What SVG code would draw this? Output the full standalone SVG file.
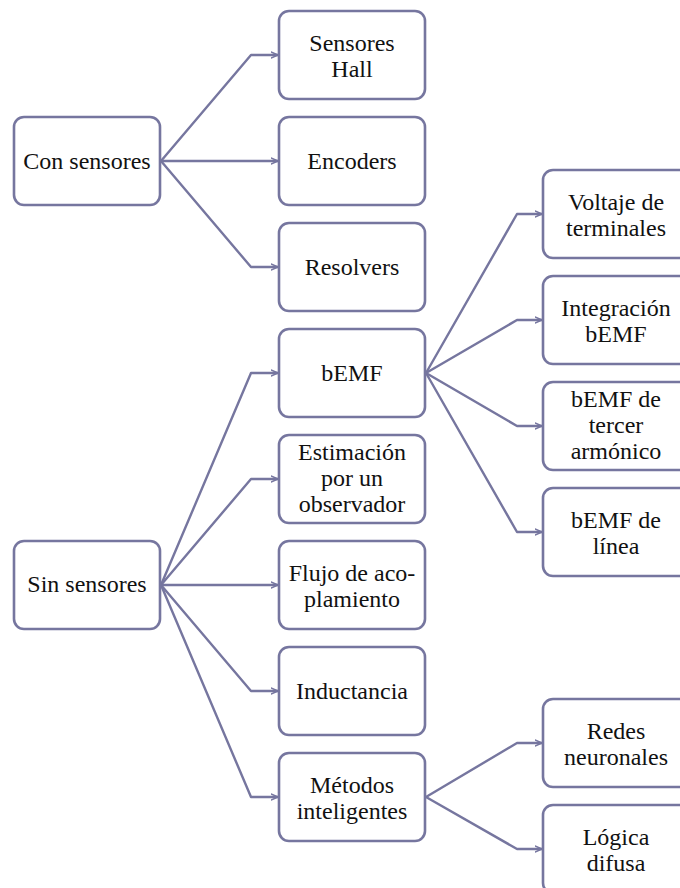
<svg xmlns="http://www.w3.org/2000/svg" width="680" height="888" viewBox="0 0 680 888">
  <defs>
    <marker id="arr" viewBox="0 0 8 8" refX="7.5" refY="4" markerWidth="8" markerHeight="8" markerUnits="userSpaceOnUse" orient="auto">
      <path d="M0.5,1 L7.5,4 L0.5,7" fill="none" stroke="#76769f" stroke-width="1.4" stroke-linecap="round" stroke-linejoin="round"/>
    </marker>
  </defs>
  <style>
    .box { fill: #ffffff; stroke: #76769f; stroke-width: 2.6; }
    .lbl { font-family: "Liberation Serif", "DejaVu Serif", serif; font-size: 24px; fill: #111111; text-anchor: middle; }
    .edge { fill: none; stroke: #76769f; stroke-width: 2.4; stroke-linejoin: round; marker-end: url(#arr); }
  </style>
  <rect width="680" height="888" fill="#ffffff"/>

  <!-- connectors -->
  <g id="connectors">
    <path class="edge" d="M161,161 L251,55 L278,55"/>
    <path class="edge" d="M161,161 L278,161"/>
    <path class="edge" d="M161,161 L251,267 L278,267"/>
    <path class="edge" d="M161,585 L251,373 L278,373"/>
    <path class="edge" d="M161,585 L251,479 L278,479"/>
    <path class="edge" d="M161,585 L278,585"/>
    <path class="edge" d="M161,585 L251,691 L278,691"/>
    <path class="edge" d="M161,585 L251,797 L278,797"/>
    <path class="edge" d="M426,373 L517,214 L542,214"/>
    <path class="edge" d="M426,373 L517,320 L542,320"/>
    <path class="edge" d="M426,373 L517,426 L542,426"/>
    <path class="edge" d="M426,373 L517,532 L542,532"/>
    <path class="edge" d="M426,797 L517,743 L542,743"/>
    <path class="edge" d="M426,797 L517,849 L542,849"/>
  </g>

  <!-- left column -->
  <g id="con-sensores">
    <rect class="box" x="14" y="117" width="146" height="88" rx="10"/>
    <text class="lbl" x="87" y="169">Con sensores</text>
  </g>
  <g id="sin-sensores">
    <rect class="box" x="14" y="541" width="146" height="88" rx="10"/>
    <text class="lbl" x="87" y="592">Sin sensores</text>
  </g>

  <!-- middle column -->
  <g id="sensores-hall">
    <rect class="box" x="279" y="11" width="146" height="88" rx="10"/>
    <text class="lbl" x="352" y="51">Sensores</text>
    <text class="lbl" x="352" y="77">Hall</text>
  </g>
  <g id="encoders">
    <rect class="box" x="279" y="117" width="146" height="88" rx="10"/>
    <text class="lbl" x="352" y="169">Encoders</text>
  </g>
  <g id="resolvers">
    <rect class="box" x="279" y="223" width="146" height="88" rx="10"/>
    <text class="lbl" x="352" y="275">Resolvers</text>
  </g>
  <g id="bemf">
    <rect class="box" x="279" y="329" width="146" height="88" rx="10"/>
    <text class="lbl" x="352" y="381">bEMF</text>
  </g>
  <g id="estimacion">
    <rect class="box" x="279" y="435" width="146" height="88" rx="10"/>
    <text class="lbl" x="352" y="460">Estimación</text>
    <text class="lbl" x="352" y="486">por un</text>
    <text class="lbl" x="352" y="512">observador</text>
  </g>
  <g id="flujo">
    <rect class="box" x="279" y="541" width="146" height="88" rx="10"/>
    <text class="lbl" x="352" y="581">Flujo de aco-</text>
    <text class="lbl" x="352" y="607">plamiento</text>
  </g>
  <g id="inductancia">
    <rect class="box" x="279" y="647" width="146" height="88" rx="10"/>
    <text class="lbl" x="352" y="699">Inductancia</text>
  </g>
  <g id="metodos">
    <rect class="box" x="279" y="753" width="146" height="88" rx="10"/>
    <text class="lbl" x="352" y="793">Métodos</text>
    <text class="lbl" x="352" y="819">inteligentes</text>
  </g>

  <!-- right column -->
  <g id="voltaje">
    <rect class="box" x="543" y="170" width="146" height="88" rx="10"/>
    <text class="lbl" x="616" y="210">Voltaje de</text>
    <text class="lbl" x="616" y="236">terminales</text>
  </g>
  <g id="integracion">
    <rect class="box" x="543" y="276" width="146" height="88" rx="10"/>
    <text class="lbl" x="616" y="316">Integración</text>
    <text class="lbl" x="616" y="342">bEMF</text>
  </g>
  <g id="tercer-armonico">
    <rect class="box" x="543" y="382" width="146" height="88" rx="10"/>
    <text class="lbl" x="616" y="407">bEMF de</text>
    <text class="lbl" x="616" y="433">tercer</text>
    <text class="lbl" x="616" y="459">armónico</text>
  </g>
  <g id="bemf-linea">
    <rect class="box" x="543" y="488" width="146" height="88" rx="10"/>
    <text class="lbl" x="616" y="528">bEMF de</text>
    <text class="lbl" x="616" y="554">línea</text>
  </g>
  <g id="redes">
    <rect class="box" x="543" y="699" width="146" height="88" rx="10"/>
    <text class="lbl" x="616" y="739">Redes</text>
    <text class="lbl" x="616" y="765">neuronales</text>
  </g>
  <g id="logica">
    <rect class="box" x="543" y="805" width="146" height="88" rx="10"/>
    <text class="lbl" x="616" y="845">Lógica</text>
    <text class="lbl" x="616" y="871">difusa</text>
  </g>
</svg>
